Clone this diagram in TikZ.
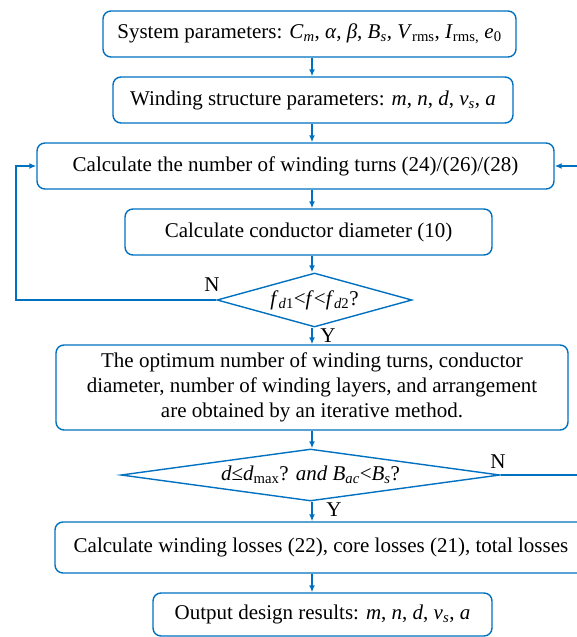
\documentclass[tikz,border=0pt]{standalone}
\usepackage{fontspec}
\setmainfont{Liberation Serif}
\usetikzlibrary{shapes.geometric,arrows.meta}
\definecolor{flowblue}{RGB}{0,112,192}
\newcommand{\vr}[1]{\textit{#1}}

\begin{document}
\begin{tikzpicture}[x=1pt,y=-1pt,
        caja/.style={draw=flowblue, line width=1.4pt, rounded corners=8pt, inner sep=0pt, align=center},
        rombo/.style={draw=flowblue, line width=1.4pt, diamond, inner sep=0pt},
        flecha/.style={flowblue, line width=1.4pt, -{Latex[length=7pt,width=6pt]}},
        font=\fontsize{21}{25}\selectfont]
        % Marco del dibujo
        \useasboundingbox (0,0) rectangle (577,637);
        \clip (0,0) rectangle (577,637);

        % Cajas del proceso
        \node[caja, minimum width=413pt, minimum height=46pt] (param) at (309.5,34)
            {System parameters: \vr{C}\textsubscript{\vr{m}}, \vr{α}, \vr{β}, \vr{B}\textsubscript{\vr{s}}, \vr{V}\textsubscript{rms}, \vr{I}\textsubscript{rms,} \vr{e}\textsubscript{0}};
        \node[caja, minimum width=400pt, minimum height=46pt] (estructura) at (313,100)
            {Winding structure parameters: \vr{m}, \vr{n}, \vr{d}, \vr{v}\textsubscript{\vr{s}}, \vr{a}};
        \node[caja, minimum width=517pt, minimum height=46pt] (vueltas) at (295.5,166)
            {Calculate the number of winding turns (24)/(26)/(28)};
        \node[caja, minimum width=367pt, minimum height=46pt] (diametro) at (308.5,232)
            {Calculate conductor diameter (10)};
        \node[rombo, minimum width=195pt, minimum height=54pt, aspect=3.6] (frec) at (314.5,300)
            {\vr{f}\textsubscript{\vr{d}1}<\vr{f}<\vr{f}\textsubscript{\vr{d}2}?};
        \node[caja, minimum width=512pt, minimum height=85pt] (optimo) at (312,387.5)
            {The optimum number of winding turns, conductor\\
             diameter, number of winding layers, and arrangement\\
             are obtained by an iterative method.};
        \node[rombo, minimum width=379pt, minimum height=52pt, aspect=7.3] (limite) at (310.5,475)
            {\vr{d}≤\vr{d}\textsubscript{max}? \vr{and} \vr{B}\textsubscript{\vr{ac}}<\vr{B}\textsubscript{\vr{s}}?};
        \node[caja, minimum width=532pt, minimum height=51pt] (perdidas) at (321,547.5)
            {Calculate winding losses (22), core losses (21), total losses};
        \node[caja, minimum width=339pt, minimum height=43pt] (salida) at (322.5,614.5)
            {Output design results: \vr{m}, \vr{n}, \vr{d}, \vr{v}\textsubscript{\vr{s}}, \vr{a}};

        % Flechas principales
        \coordinate (eje) at (312,0);
        \draw[flecha] (eje |- param.south) -- (eje |- estructura.north);
        \draw[flecha] (eje |- estructura.south) -- (eje |- vueltas.north);
        \draw[flecha] (eje |- vueltas.south) -- (eje |- diametro.north);
        \draw[flecha] (eje |- diametro.south) -- (eje |- frec.north);
        \draw[flecha] (eje |- frec.south) -- (eje |- optimo.north);
        \draw[flecha] (eje |- optimo.south) -- (eje |- limite.north);
        \draw[flecha] (eje |- limite.south) -- (eje |- perdidas.north);
        \draw[flecha] (eje |- perdidas.south) -- (eje |- salida.north);

        % Lazos de regreso
        \coordinate (lazoI) at (16,0);
        \coordinate (lazoD) at (578,0);
        \draw[flecha] (frec.west) -- (lazoI |- frec.west) |- (vueltas.west);
        \draw[flecha] (limite.east) -- (lazoD |- limite.east) |- (vueltas.east);

        % Etiquetas
        \node (n1) at (212,285) {N};
        \node (y1) at (328,336) {Y};
        \node (n2) at (498,462) {N};
        \node (y2) at (334,510) {Y};
    \end{tikzpicture}
\end{document}
